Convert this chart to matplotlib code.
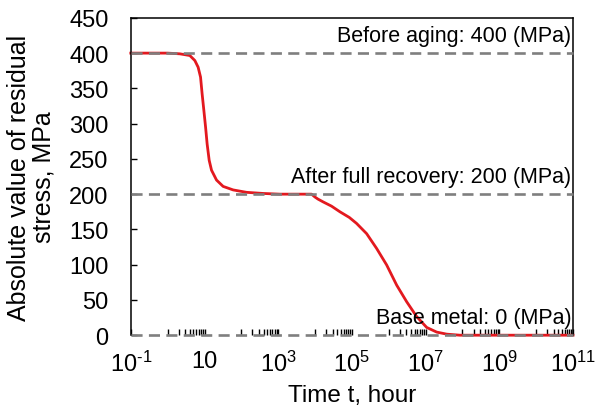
import numpy as np
import matplotlib.pyplot as plt
from matplotlib.ticker import FixedLocator, NullFormatter
from matplotlib.transforms import blended_transform_factory

plt.rcParams['font.family'] = ['Liberation Sans', 'DejaVu Sans']
plt.rcParams['mathtext.fontset'] = 'custom'
plt.rcParams['mathtext.rm'] = 'Liberation Sans'
plt.rcParams['mathtext.it'] = 'Liberation Sans:italic'

# residual stress vs aging time (hours, MPa)
time_h = [0.1, 1.0, 2.14, 4.0, 5.47, 6.72, 7.81, 8.63, 9.6, 10.7, 11.8, 13.4,
          15.5, 21.2, 32, 60, 138, 391, 1110, 8050, 9900, 12000, 16600, 28000,
          47300, 85000, 1.34e5, 2.51e5, 4.69e5, 8.77e5, 1.64e6, 3.06e6, 5.72e6,
          1.07e7, 2.0e7, 3.73e7, 8.5e7, 1e11]
stress = [400, 400, 399, 396.6, 389.5, 380, 366, 342, 319, 295, 271, 248,
          234, 220, 211, 206, 202.6, 201, 200, 200, 196, 193, 189, 183,
          175, 167, 158.5, 144, 123, 99.6, 71, 47.5, 26.4,
          11, 4.4, 1.5, 0, 0]

ref_levels = [400, 200, 0]
ref_labels = ['Before aging: 400 (MPa)', 'After full recovery: 200 (MPa)',
              'Base metal: 0 (MPa)']

major_exp = [-1, 1, 3, 5, 7, 9, 11]
tick_labels = [r'$\mathregular{10^{\text{-}1}}$', '10', r'$\mathregular{10^{3}}$',
               r'$\mathregular{10^{5}}$', r'$\mathregular{10^{7}}$',
               r'$\mathregular{10^{9}}$', r'$\mathregular{10^{11}}$']

fig = plt.figure(figsize=(6, 4.1), dpi=100)
ax = fig.add_axes([0.218, 0.18, 0.737, 0.774])

ax.plot(time_h, stress, color='#e3191f', lw=2.0, zorder=2, clip_on=False)
for lvl in ref_levels:
    ax.axhline(lvl, color='#7f7f7f', lw=1.9, ls=(0, (4.2, 2.4)), zorder=3,
               clip_on=False)

ax.set_xscale('log')
ax.set_xlim(0.1, 1e11)
ax.set_ylim(0, 450)

ax.xaxis.set_major_locator(FixedLocator([10.0 ** e for e in major_exp]))
ax.set_xticklabels(tick_labels)
minor = [k * 10.0 ** e for e in range(0, 11, 2) for k in range(1, 10)]
ax.xaxis.set_minor_locator(FixedLocator(minor))
ax.xaxis.set_minor_formatter(NullFormatter())
ax.set_yticks(np.arange(0, 451, 50))

ax.tick_params(axis='x', which='major', direction='in', length=4, width=1,
               labelsize=17, pad=11)
ax.tick_params(axis='x', which='minor', direction='in', length=4, width=1)
ax.tick_params(axis='y', direction='in', length=4, width=1, labelsize=17, pad=16)

ax.spines['bottom'].set_visible(False)
for side in ['left', 'top', 'right']:
    ax.spines[side].set_linewidth(1.1)

ax.set_xlabel('Time t, hour', fontsize=17.5, labelpad=6)
ax.set_ylabel('Absolute value of residual\nstress, MPa', fontsize=18,
              labelpad=10, linespacing=1.0)

trans = blended_transform_factory(ax.transAxes, ax.transData)
for lvl, txt in zip(ref_levels, ref_labels):
    ax.annotate(txt, xy=(0.996, lvl), xycoords=trans, xytext=(0, 9),
                textcoords='offset points', ha='right', va='baseline',
                fontsize=15.5)

fig.savefig('out.png', dpi=100)
